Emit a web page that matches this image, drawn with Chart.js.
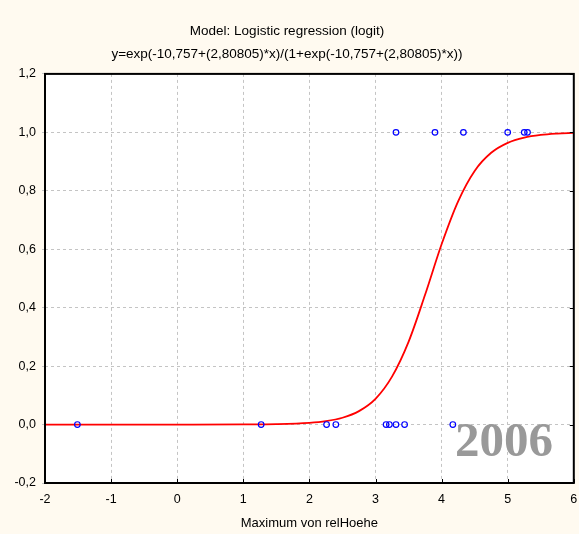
<!DOCTYPE html>
<html><head><meta charset="utf-8">
<script src="https://cdn.jsdelivr.net/npm/chart.js@4.4.1/dist/chart.umd.min.js"></script>
<style>html,body{margin:0;padding:0;background:#fffaf0;}#wrap{width:579px;height:534px;}</style>
</head><body><div id="wrap"><canvas id="c" width="579" height="534"></canvas></div>
<script>
const titleLines = ["Model: Logistic regression (logit)", "y=exp(-10,757+(2,80805)*x)/(1+exp(-10,757+(2,80805)*x))"];
const xAxisTitle = "Maximum von relHoehe";
const watermark = "2006";
const xTicks = [-2, -1, 0, 1, 2, 3, 4, 5, 6];
const xTickLabels = ["-2", "-1", "0", "1", "2", "3", "4", "5", "6"];
const yTicks = [-0.2, 0, 0.2, 0.4, 0.6, 0.8, 1.0, 1.2];
const yTickLabels = ["-0,2", "0,0", "0,2", "0,4", "0,6", "0,8", "1,0", "1,2"];
// observed points
const obsX = [-1.51, 1.27, 2.26, 2.40, 3.16, 3.21, 3.31, 3.44, 4.17, 3.31, 3.90, 4.33, 5.00, 5.25, 5.30];
const obsY = [0, 0, 0, 0, 0, 0, 0, 0, 0, 1, 1, 1, 1, 1, 1];
// fitted curve
const curveX = [-2, -1, 0, 1, 1.5, 2, 2.25, 2.5, 2.75, 3, 3.25, 3.5, 3.75, 4, 4.25, 4.5, 4.75, 5, 5.25, 5.5, 5.75, 6];
const curveY = [0, 0, 0, 0.0004, 0.0014, 0.0058, 0.0116, 0.0233, 0.046, 0.088, 0.164, 0.283, 0.444, 0.617, 0.764, 0.868, 0.930, 0.964, 0.982, 0.991, 0.9955, 0.998];

const framePlugin = {
  id: 'frame',
  beforeDraw(chart) {
    const {ctx, chartArea: a} = chart;
    ctx.save();
    ctx.fillStyle = '#ffffff';
    ctx.fillRect(a.left, a.top, a.right - a.left, a.bottom - a.top);
    ctx.restore();
  },
  afterDraw(chart) {
    const {ctx, chartArea: a, scales} = chart;
    ctx.save();
    ctx.strokeStyle = '#000';
    ctx.lineWidth = 2;
    ctx.strokeRect(a.left, a.top, a.right - a.left, a.bottom - a.top);
    ctx.lineWidth = 1;
    ctx.beginPath();
    xTicks.forEach(v => { const px = Math.round(scales.x.getPixelForValue(v)) + 0.5; ctx.moveTo(px, a.bottom); ctx.lineTo(px, a.bottom - 4); });
    yTicks.forEach(v => { const py = Math.round(scales.y.getPixelForValue(v)) + 0.5; ctx.moveTo(a.right, py); ctx.lineTo(a.right - 4, py); });
    ctx.stroke();
    ctx.fillStyle = '#999999';
    ctx.font = 'bold 49px "Liberation Serif", "Times New Roman", serif';
    ctx.textBaseline = 'alphabetic';
    ctx.textAlign = 'left';
    ctx.fillText(watermark, 455, 456);
    ctx.restore();
  }
};

new Chart(document.getElementById('c'), {
  type: 'scatter',
  data: {
    datasets: [
      {
        data: curveX.map((x, i) => ({x, y: curveY[i]})),
        showLine: true, borderColor: '#ff0000', borderWidth: 1.8, pointRadius: 0,
        cubicInterpolationMode: 'monotone', fill: false, order: 2
      },
      {
        data: obsX.map((x, i) => ({x, y: obsY[i]})),
        pointRadius: 2.8, pointBorderColor: '#0000ff', pointBackgroundColor: 'rgba(0,0,0,0)',
        pointBorderWidth: 1.2, showLine: false, order: 1
      }
    ]
  },
  plugins: [framePlugin],
  options: {
    responsive: false, animation: false,
    layout: {padding: {left: 0, right: 5, top: 0, bottom: 0}},
    plugins: {
      legend: {display: false}, tooltip: {enabled: false},
      title: {display: true, text: titleLines, color: '#000', font: {family: '"Liberation Sans", Arial, sans-serif', size: 13.5, weight: 'normal', lineHeight: 1.7}, padding: {top: 20, bottom: 8}}
    },
    scales: {
      x: {
        type: 'linear', min: -2, max: 6,
        afterBuildTicks: s => { s.ticks = xTicks.map(v => ({value: v})); },
        afterFit: s => { s.height = 51; s.paddingLeft = 0; s.paddingRight = 0; },
        ticks: {callback: (v, i) => xTickLabels[i], color: '#000', font: {family: '"Liberation Sans", Arial, sans-serif', size: 12.5}, padding: 9, maxRotation: 0},
        grid: {color: '#c4c4c4', tickLength: 0, drawTicks: false},
        border: {display: false, dash: [3, 3]},
        title: {display: true, text: xAxisTitle, color: '#000', font: {family: '"Liberation Sans", Arial, sans-serif', size: 13}, padding: {top: 4, bottom: 3}}
      },
      y: {
        type: 'linear', min: -0.2, max: 1.2,
        afterBuildTicks: s => { s.ticks = yTicks.map(v => ({value: v})); },
        afterFit: s => { s.width = 45; },
        ticks: {callback: (v, i) => yTickLabels[i], color: '#000', font: {family: '"Liberation Sans", Arial, sans-serif', size: 12.5}, padding: 6},
        grid: {color: '#c4c4c4', tickLength: 3, drawTicks: true},
        border: {display: false, dash: [3, 3]}
      }
    }
  }
});
</script></body></html>
